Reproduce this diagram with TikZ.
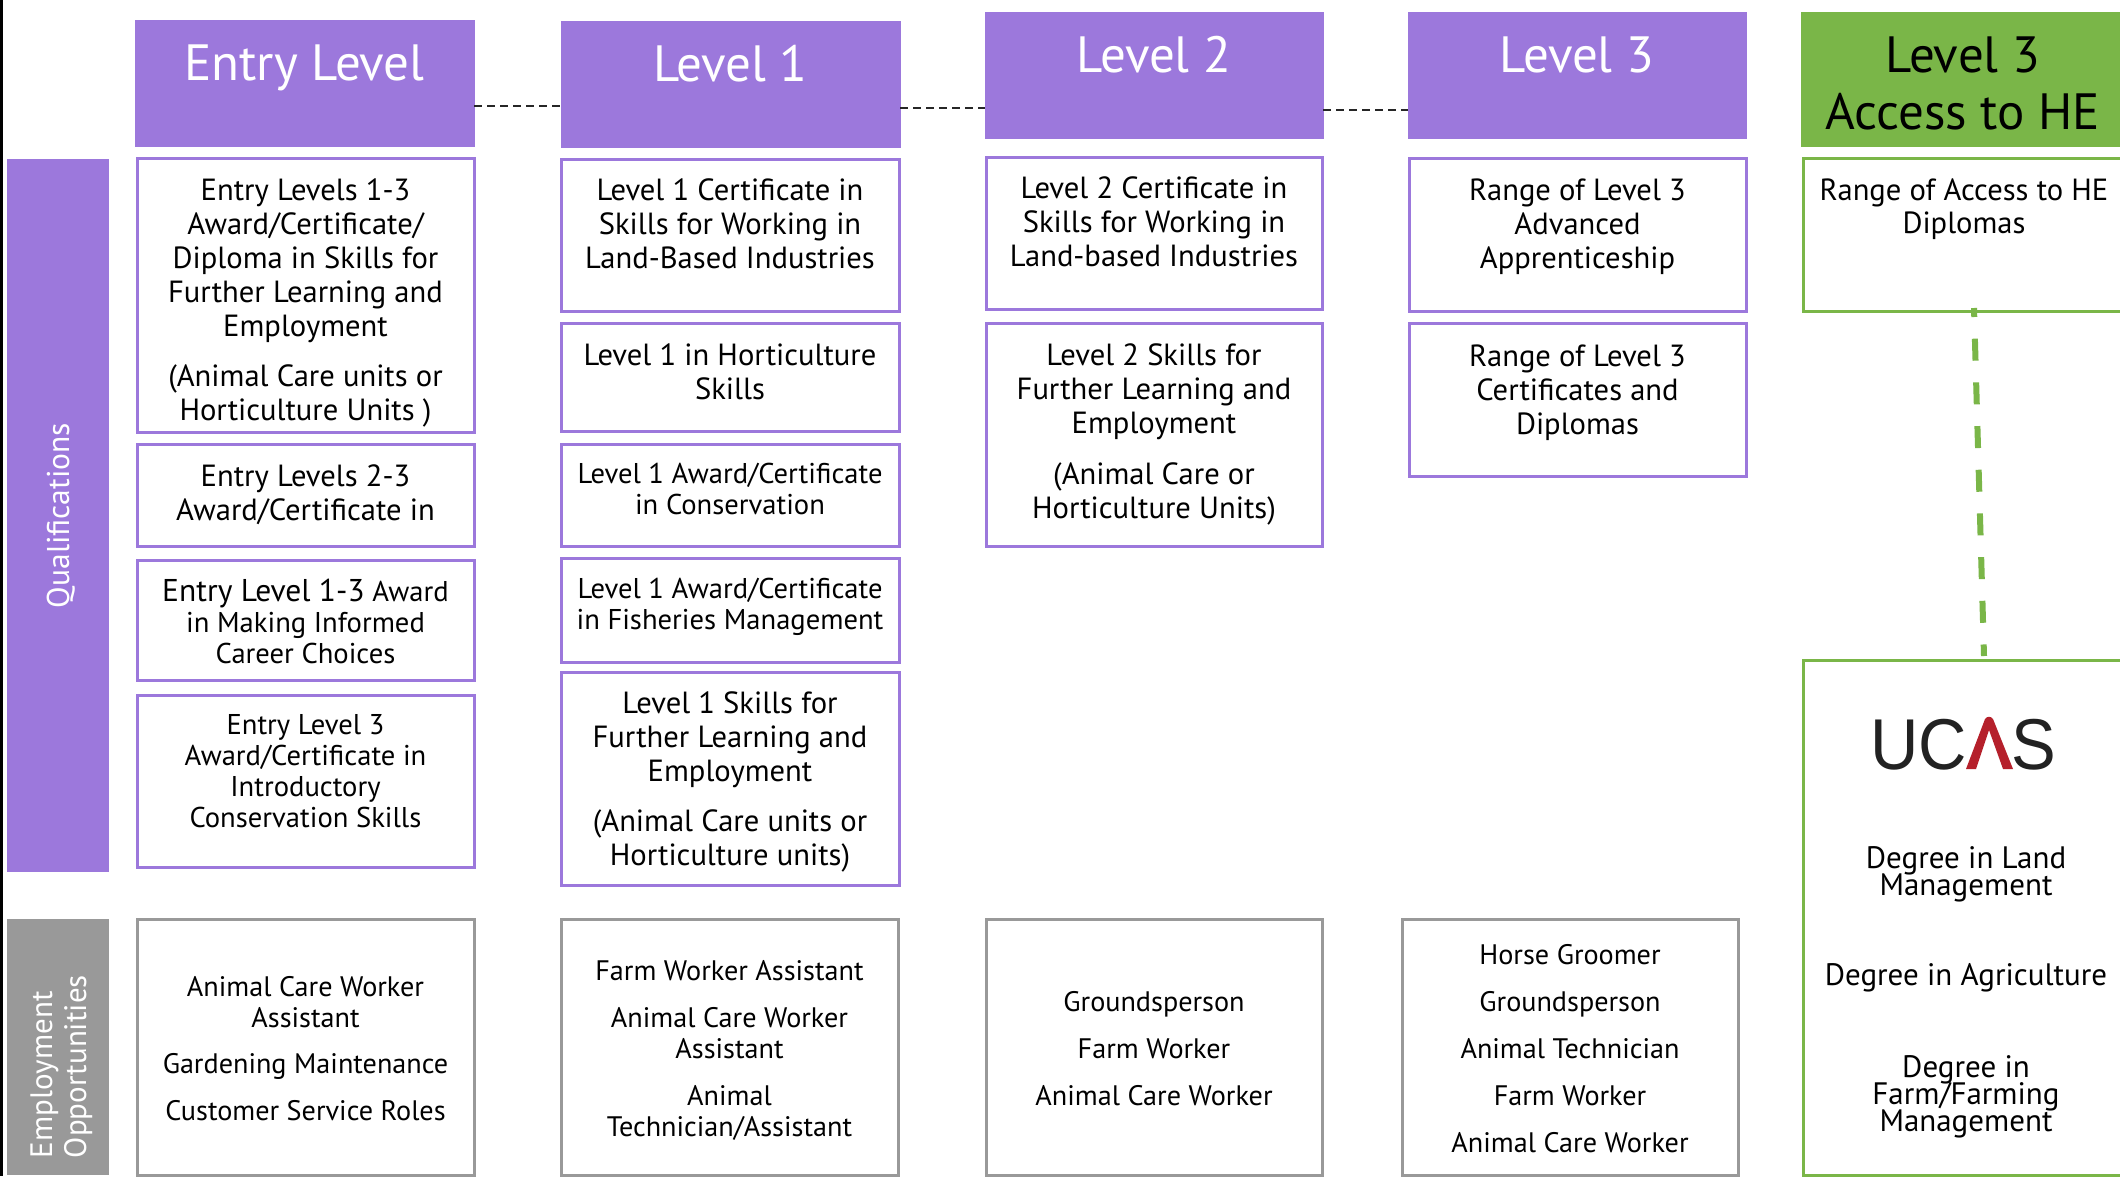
\documentclass[tikz,border=0pt]{standalone}
\usepackage{fontspec}
\usetikzlibrary{calc}
\setmainfont{PT Sans}
\newfontfamily\logofont{Liberation Sans}
\definecolor{pur}{HTML}{9C78DC}
\definecolor{grn}{HTML}{7AB648}
\definecolor{gry}{HTML}{999999}
\definecolor{logodark}{HTML}{222222}
\definecolor{logored}{HTML}{B5202B}
\newcommand{\fa}{\fontsize{30.6}{34}\selectfont}
\newcommand{\fb}{\fontsize{28.6}{31}\selectfont}
\newcommand{\fe}{\fontsize{28.2}{31}\selectfont}
\newcommand{\fu}{\fontsize{31}{27}\selectfont\lineskiplimit=-100pt\relax}
\newcommand{\fh}{\fontsize{51}{57}\selectfont}
% name x1 y1 x2 y2 style fontcmd baseline text
\newcommand{\bx}[9]{%
  \pgfmathsetmacro\bcx{(#2+#4)/2}\pgfmathsetmacro\bcy{(#3+#5)/2}%
  \pgfmathsetmacro\bw{#4-#2}\pgfmathsetmacro\bh{#5-#3}\pgfmathsetmacro\boff{#8-#3}%
  \node[#6] (#1) at (\bcx,\bcy) {\parbox[c][\bh pt][t]{\bw pt}{\centering#7%
    \vspace*{\dimexpr\boff pt-.7\baselineskip\relax}\strut #9\par}};}
\tikzset{
  hbox/.style={draw=#1,fill=#1,line width=1pt,inner sep=0pt,outer sep=0pt},
  qbox/.style={draw=#1,fill=white,line width=3pt,inner sep=0pt,outer sep=0pt},
  link/.style={draw=black!85,line width=1.6pt,dash pattern=on 8pt off 5pt},
  gdash/.style={draw=grn,line width=6pt,dash pattern=on 22pt off 21.7pt,dash phase=13pt},
  bar/.style={fill=#1,inner sep=0pt,outer sep=0pt,rotate=90,text=white}
}
\begin{document}
\begin{tikzpicture}[x=1pt,y=-1pt]
\useasboundingbox (0,0) rectangle (2120,1176);
\clip (0,0) rectangle (2120,1176);
\fill[black] (0,0) rectangle (3,1176);
% side bars
\node[bar=pur] (qual) at (58,515.5) {\parbox[c][102pt][t]{713pt}{\centering\fontsize{31.5}{34}\selectfont\vspace*{\dimexpr 62pt-.7\baselineskip\relax}\strut Qualifications\par}};
\node[bar=gry] (emp) at (58,1047) {\parbox[c][102pt][t]{256pt}{\raggedright\fontsize{31}{34}\selectfont\vspace*{\dimexpr 45pt-.7\baselineskip\relax}\hspace*{17pt}\strut Employment\\\hspace*{17pt}Opportunities\par}};
% headers
\bx{h0}{135}{20}{474}{146}{hbox=pur,text=white}{\fh}{80}{Entry Level}
\bx{h1}{561}{21}{900}{147}{hbox=pur,text=white}{\fh}{81}{Level 1}
\bx{h2}{985}{12}{1323}{138}{hbox=pur,text=white}{\fh}{72}{Level 2}
\bx{h3}{1408}{12}{1746}{138}{hbox=pur,text=white}{\fh}{72}{Level 3}
\bx{h4}{1801}{12}{2125}{146}{hbox=grn,text=black}{\fh}{72}{Level 3\\Access to HE}
\draw[link] (h0.east |- 0,106) -- (h1.west |- 0,106);
\draw[link] (h1.east |- 0,108) -- (h2.west |- 0,108);
\draw[link] (h2.east |- 0,110) -- (h3.west |- 0,110);
% entry column
\bx{e1}{137}{158}{474}{432}{qbox=pur}{\fa}{200}{Entry Levels 1-3\\Award/Certificate/\\Diploma in Skills for\\Further Learning and\\Employment\\[16pt](Animal Care units or\\Horticulture Units )}
\bx{e2}{137}{444}{474}{546}{qbox=pur}{\fa}{486}{Entry Levels 2-3\\Award/Certificate in}
\bx{e3}{137}{560}{474}{680}{qbox=pur}{\fb}{601}{{\fontsize{31.5}{34}\selectfont Entry Level 1-3} Award\\in Making Informed\\Career Choices}
\bx{e4}{137}{695}{474}{867}{qbox=pur}{\fb}{734}{Entry Level 3\\Award/Certificate in\\Introductory\\Conservation Skills}
% level 1
\bx{a1}{561}{159}{899}{311}{qbox=pur}{\fa}{200}{Level 1 Certificate in\\Skills for Working in\\Land-Based Industries}
\bx{a2}{561}{323}{899}{431}{qbox=pur}{\fa}{365}{Level 1 in Horticulture\\Skills}
\bx{a3}{561}{444}{899}{546}{qbox=pur}{\fb}{483}{Level 1 Award/Certificate\\in Conservation}
\bx{a4}{561}{558}{899}{662}{qbox=pur}{\fb}{598}{Level 1 Award/Certificate\\in Fisheries Management}
\bx{a5}{561}{672}{899}{885}{qbox=pur}{\fa}{713}{Level 1 Skills for\\Further Learning and\\Employment\\[16pt](Animal Care units or\\Horticulture units)}
% level 2
\bx{b1}{986}{157}{1322}{309}{qbox=pur}{\fa}{198}{Level 2 Certificate in\\Skills for Working in\\Land-based Industries}
\bx{b2}{986}{323}{1322}{546}{qbox=pur}{\fa}{365}{Level 2 Skills for\\Further Learning and\\Employment\\[17pt](Animal Care or\\Horticulture Units)}
% level 3
\bx{c1}{1409}{158}{1746}{311}{qbox=pur}{\fa}{200}{Range of Level 3\\Advanced\\Apprenticeship}
\bx{c2}{1409}{323}{1746}{476}{qbox=pur}{\fa}{366}{Range of Level 3\\Certificates and\\Diplomas}
% access
\bx{g1}{1803}{158}{2125}{311}{qbox=grn}{\fa}{200}{Range of Access to HE\\[-1pt]Diplomas}
\bx{uc}{1803}{660}{2129}{1175}{qbox=grn}{\fu}{865}{Degree in Land\\Management\\[63.5pt]Degree in Agriculture\\[65pt]Degree in\\Farm/Farming\\Management}
\draw[gdash] ($(g1.south)+(10,-3)$) -- ($(uc.north)+(18,-4)$);
% logo
\node[inner sep=0pt,anchor=base east,text=logodark,xscale=.93] (ucl) at (1967,769) {\logofont\fontsize{72}{72}\selectfont UC};
\node[inner sep=0pt,anchor=base west,text=logodark,xscale=.93] (ucs) at (2011,769) {\logofont\fontsize{72}{72}\selectfont S};
\fill[logored] (1966,769) -- (1985,719) .. controls (1987,716) and (1991,716) .. (1993,719) -- (2013,769) -- (2003,769) -- (1989,730) -- (1976,769) -- cycle;
% employment
\bx{p0}{137}{919}{474}{1175}{qbox=gry}{\fe}{996}{Animal Care Worker\\Assistant\\[15pt]Gardening Maintenance\\[16pt]Customer Service Roles}
\bx{p1}{561}{919}{898}{1175}{qbox=gry}{\fe}{980}{Farm Worker Assistant\\[16pt]Animal Care Worker\\Assistant\\[16pt]Animal\\Technician/Assistant}
\bx{p2}{986}{919}{1322}{1175}{qbox=gry}{\fe}{1011}{Groundsperson\\[16pt]Farm Worker\\[16pt]Animal Care Worker}
\bx{p3}{1402}{919}{1738}{1175}{qbox=gry}{\fe}{964}{Horse Groomer\\[16pt]Groundsperson\\[16pt]Animal Technician\\[16pt]Farm Worker\\[16pt]Animal Care Worker}
\end{tikzpicture}
\end{document}
